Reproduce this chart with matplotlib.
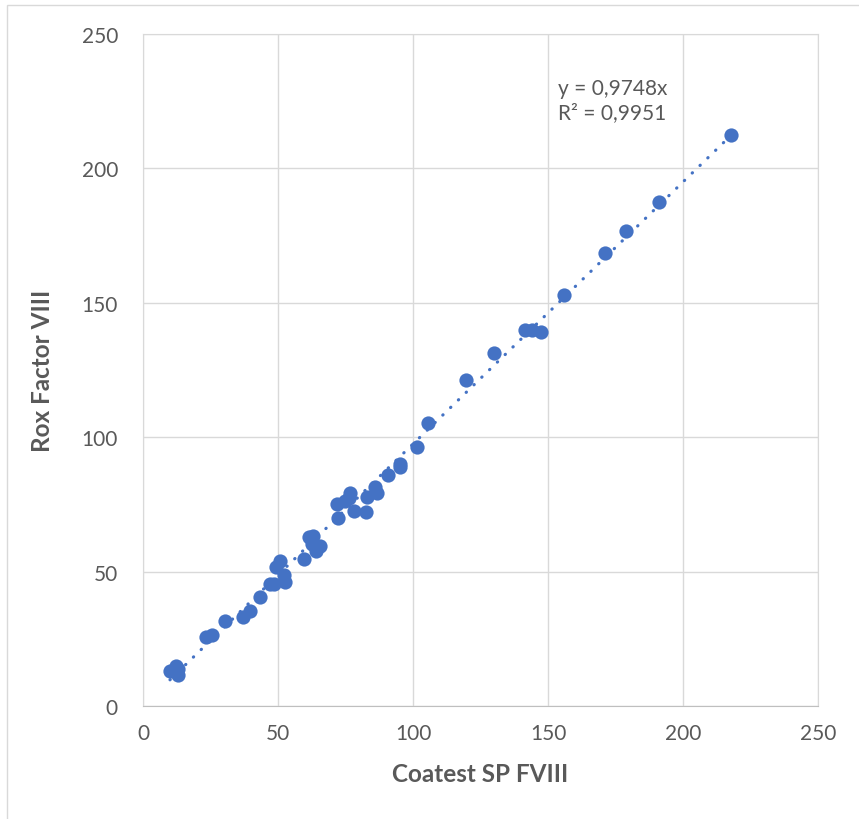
import matplotlib
matplotlib.use("Agg")
import matplotlib.pyplot as plt
import numpy as np
from matplotlib.patches import Rectangle

plt.rcParams['font.family'] = ['Lato', 'DejaVu Sans']

# Coatest SP FVIII (x) vs Rox Factor VIII (y)
coatest = [217.8, 191.0, 178.9, 171.0, 155.9, 141.5, 144.0, 147.4, 130.0, 119.8,
           105.6, 101.3, 95.3, 95.2, 90.7, 86.0, 86.5, 83.0, 82.6, 78.1,
           76.7, 76.3, 74.8, 71.9, 72.4, 65.7, 64.0, 63.0, 62.6, 61.6,
           59.5, 52.6, 52.2, 50.7, 48.7, 49.2, 47.0, 43.3, 39.8, 36.9,
           30.2, 25.5, 23.3, 13.0, 10.0, 13.0, 12.3]
rox = [212.3, 187.5, 176.7, 168.6, 152.9, 139.8, 140.0, 139.3, 131.3, 121.1,
       105.4, 96.4, 90.0, 88.9, 86.1, 81.5, 79.2, 77.9, 72.0, 72.4,
       79.1, 77.2, 76.3, 75.0, 69.9, 59.5, 57.7, 63.2, 60.3, 62.9,
       54.7, 46.1, 48.6, 53.8, 45.4, 51.7, 45.4, 40.6, 35.3, 33.2,
       31.8, 26.3, 25.8, 13.8, 13.0, 11.4, 14.9]
slope = 0.9748
r2_text = "y = 0,9748x\nR² = 0,9951"

x = np.array(coatest)
y = np.array(rox)

fig = plt.figure(figsize=(8.59, 8.20), dpi=100)
ax = fig.add_axes([143/859, (820-707)/820, (818-143)/859, (707-35)/820])

fig.patches.append(Rectangle((7/859, -0.01), 1.0, (820-6)/820 + 0.01,
                             transform=fig.transFigure, fill=False,
                             edgecolor='#D9D9D9', linewidth=1.0))

ax.scatter(x, y, s=105, color='#4472C4', zorder=3, linewidths=0)

xt = np.linspace(x.min(), x.max(), 50)
ax.plot(xt, slope * xt, linestyle=(0, (0.1, 3.3)), dash_capstyle='round',
        color='#4472C4', linewidth=2.3, zorder=2)

ax.text(153.7, 233.5, r2_text, fontsize=15, color='#595959', va='top', ha='left',
        linespacing=1.25)

ax.set_xlim(0, 250)
ax.set_ylim(0, 250)
ax.set_xticks(range(0, 251, 50))
ax.set_yticks(range(0, 251, 50))
ax.grid(True, color='#D9D9D9', linewidth=1.0)
ax.set_axisbelow(True)
for s in ax.spines.values():
    s.set_color('#D9D9D9')
ax.spines['bottom'].set_color('#BFBFBF')
ax.tick_params(length=0, labelsize=15, colors='#595959')
ax.tick_params(axis='y', pad=18)
ax.tick_params(axis='x', pad=12)

ax.set_xlabel('Coatest SP FVIII', fontsize=17.5, fontweight='bold', color='#595959', labelpad=14)
ax.set_ylabel('Rox Factor VIII', fontsize=17.5, fontweight='bold', color='#595959', labelpad=20)

fig.savefig('out.png', dpi=100)
